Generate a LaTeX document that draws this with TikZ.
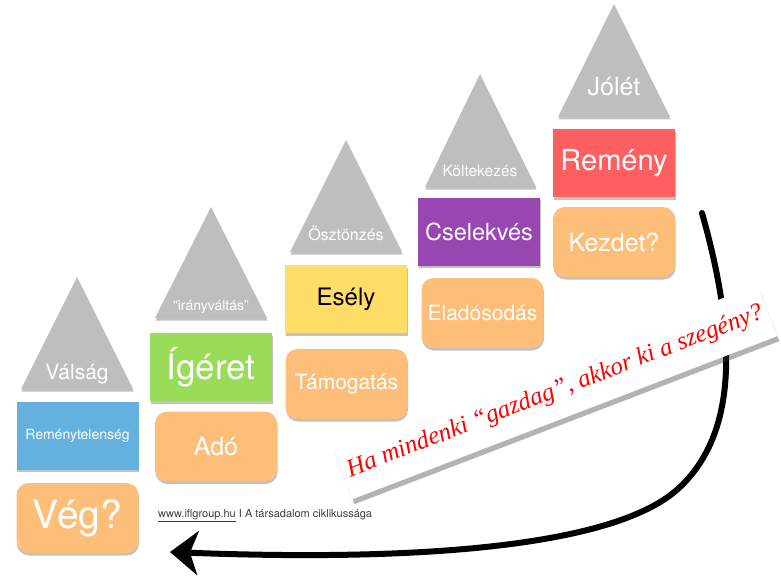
\documentclass[tikz,border=0pt]{standalone}
\usepackage{fontspec}
\setmainfont{TeX Gyre Heros}
\newfontfamily\bannerfont{Liberation Serif}
\usetikzlibrary{positioning,shadows,arrows.meta}

\definecolor{trigray}{RGB}{190,190,190}
\definecolor{stageblue}{RGB}{100,176,222}
\definecolor{stagegreen}{RGB}{153,220,90}
\definecolor{stageyellow}{RGB}{255,221,102}
\definecolor{stagepurple}{RGB}{151,70,178}
\definecolor{stagered}{RGB}{255,95,97}
\definecolor{stageorange}{RGB}{253,190,122}
\definecolor{notegray}{RGB}{60,60,60}

\tikzset{
  softshadow/.style={drop shadow={shadow xshift=0.5pt, shadow yshift=-2.5pt,
      opacity=0.35, fill=black!70}},
  peak/.style={fill=trigray, softshadow},
  peaklabel/.style={text=white, anchor=base, inner sep=0pt},
  stagebox/.style={minimum width=122pt, minimum height=68pt, inner sep=0pt,
      softshadow, text=white},
  outcome/.style={stagebox, fill=stageorange, minimum height=70pt,
      rounded corners=12pt}
}

\begin{document}
\begin{tikzpicture}[x=1pt, y=-1pt, every node/.style={align=center}]
\useasboundingbox (0,0) rectangle (781,583);

% Peaks
\path[peak] (77,277) -- (133,389) -- (21,389) -- cycle;
\path[peak] (211,207) -- (267,318) -- (155,318) -- cycle;
\path[peak] (346,140) -- (402,252) -- (290,252) -- cycle;
\path[peak] (480,74) -- (536,187) -- (425,187) -- cycle;
\path[peak] (614,4) -- (670,117) -- (558,117) -- cycle;

\node[peaklabel, font=\fontsize{21}{24}\selectfont] (valsag) at (77,379) {Válság};
\node[peaklabel, font=\fontsize{14}{16}\selectfont] (iranyvaltas) at (211,310) {“irányváltás”};
\node[peaklabel, font=\fontsize{16}{18}\selectfont] (osztonzes) at (346,240) {Ösztönzés};
\node[peaklabel, font=\fontsize{15.5}{18}\selectfont] (koltekezes) at (480,176) {Költekezés};
\node[peaklabel, font=\fontsize{25}{28}\selectfont] (jolet) at (614,96) {Jólét};

% Middle Row
\node[stagebox, fill=stageblue, font=\fontsize{14}{16}\selectfont] (remenytelenseg) at (77.5,435.5) {Reménytelenség};
\node[stagebox, fill=stagegreen, font=\fontsize{35}{38}\selectfont] (igeret) at (211,367) {Ígéret};
\node[stagebox, fill=stageyellow, text=black, font=\fontsize{24}{27}\selectfont] (esely) at (346,299) {Esély};
\node[stagebox, fill=stagepurple, font=\fontsize{23.5}{26}\selectfont] (cselekves) at (479,231.5) {Cselekvés};
\node[stagebox, fill=stagered, font=\fontsize{29}{32}\selectfont] (remeny) at (614,163) {Remény};

% Bottom Row
\node[outcome, font=\fontsize{39}{42}\selectfont] (veg) at (77.5,518) {Vég?};
\node[outcome, font=\fontsize{25}{28}\selectfont] (ado) at (216,446.5) {Adó};
\node[outcome, font=\fontsize{21}{24}\selectfont] (tamogatas) at (346.5,384) {Támogatás};
\node[outcome, font=\fontsize{21}{24}\selectfont] (eladosodas) at (482.5,313) {Eladósodás};
\node[outcome, font=\fontsize{25}{28}\selectfont] (kezdet) at (614,242) {Kezdet?};

% Footer
\node[anchor=base west, inner sep=0pt, text=notegray, font=\fontsize{11}{13}\selectfont]
  (footer) at (158,517) {\underline{www.iflgroup.hu} I A társadalom ciklikussága};

% Cycle arrow
\coordinate (turnstart) at (702,213);
\coordinate (turnknee) at (680,487);
\coordinate (turnend) at (170,552);
\draw[line width=6pt, line cap=round, -{Stealth[length=28pt, width=44pt, inset=8pt]}]
  (turnstart) .. controls (735,330) and (740,430) .. (turnknee)
  .. controls (620,545) and (430,562) .. (turnend);

% Banner
\node[
fill=white,
rotate=21,
minimum width=455pt,
minimum height=55pt,
drop shadow={shadow xshift=2pt, shadow yshift=-5pt, opacity=0.4, fill=black!75},
text=red,
font=\bannerfont\itshape\fontsize{25}{27}\selectfont
] (banner) at (555,392)
{Ha mindenki “gazdag”, akkor ki a szegény?};

\end{tikzpicture}
\end{document}
